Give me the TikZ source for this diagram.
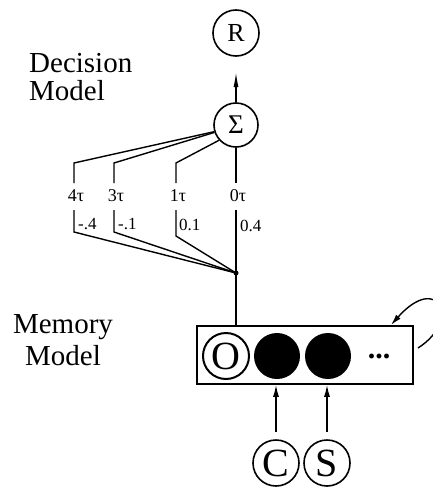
\documentclass[tikz,border=0pt]{standalone}
\usepackage{fontspec}
\setmainfont{Liberation Serif}
\usetikzlibrary{arrows.meta}
\tikzset{
  unit/.style={circle,draw,line width=1.6pt,minimum size=46pt,inner sep=0pt},
  filledunit/.style={circle,fill=black,minimum size=46pt,inner sep=0pt},
  lbl/.style={font=\fontsize{29}{29}\selectfont,inner sep=0pt},
  tlbl/.style={font=\fontsize{18}{18}\selectfont,inner sep=0pt},
  wlbl/.style={font=\fontsize{17}{17}\selectfont,inner sep=0pt,anchor=west},
  wire/.style={line width=1.4pt},
  arr/.style={line width=1.4pt,-{Latex[length=12pt,width=6pt]}},
}
\begin{document}
\begin{tikzpicture}[x=1pt,y=-1pt]
\useasboundingbox (0,0) rectangle (432,490);
% side labels
\node[lbl,anchor=base west] (dec1) at (29,72) {Decision};
\node[lbl,anchor=base west] (dec2) at (29,100) {Model};
\node[lbl,anchor=base] (mem1) at (63,333) {Memory};
\node[lbl,anchor=base] (mem2) at (63,365) {Model};
% decision units
\node[unit,font=\fontsize{26}{26}\selectfont] (R) at (236,33) {R};
\node[unit,minimum size=44pt,font=\fontsize{27}{27}\selectfont] (sig) at (236,125) {Σ};
\coordinate (rtip) at (236,72);
\draw[line width=1.4pt,-{Latex[length=15pt,width=5pt]}] (sig.north) -- (rtip);
% delay branches
\coordinate (c4) at (74,163);
\coordinate (c3) at (114,163);
\coordinate (c1) at (176,163);
\coordinate (c4b) at (74,183);
\coordinate (c3b) at (114,183);
\coordinate (c1b) at (176,183);
\coordinate (c0b) at (236,183);
\draw[wire] (sig.197) -- (c4) -- (c4b);
\draw[wire] (sig.199) -- (c3) -- (c3b);
\draw[wire] (sig.222) -- (c1) -- (c1b);
\draw[wire] (sig.south) -- (c0b);
\node[tlbl,anchor=base] (t4) at (76,201) {4τ};
\node[tlbl,anchor=base] (t3) at (116,201) {3τ};
\node[tlbl,anchor=base] (t1) at (178,201) {1τ};
\node[tlbl,anchor=base] (t0) at (238,201) {0τ};
\coordinate (j) at (236,273);
\coordinate (d4) at (74,210);
\coordinate (d3) at (114,210);
\coordinate (d1) at (176,210);
\coordinate (d0) at (236,210);
\coordinate (e4) at (74,232);
\coordinate (e3) at (114,232);
\coordinate (e1) at (176,236);
\draw[wire] (d4) -- (e4) -- (j);
\draw[wire] (d3) -- (e3) -- (j);
\draw[wire] (d1) -- (e1) -- (j);
\node[wlbl] (w4) at (78,224) {-.4};
\node[wlbl] (w3) at (118,224) {-.1};
\node[wlbl] (w1) at (179,225) {0.1};
\node[wlbl] (w0) at (240,226) {0.4};
\fill (j) circle (2.5pt);
% memory box
\node[draw,line width=1.6pt,minimum width=216pt,minimum height=58pt,inner sep=0pt] (box) at (305,355) {};
\draw[wire] (d0) -- (j) -- (j |- box.north);
\node[unit,line width=2pt,font=\fontsize{40}{40}\selectfont] (O) at (226,356) {O};
\node[filledunit] (m1) at (277,356) {};
\node[filledunit] (m2) at (328,356) {};
\node[font=\fontsize{30}{30}\selectfont\bfseries,inner sep=0pt] (dots) at (379,356) {...};
% recurrence loop
\coordinate (ls) at (418,348);
\coordinate (le) at (391,325);
\draw[line width=1.4pt,-{Latex[length=11pt,width=6pt]}] (ls) .. controls (462,320) and (438,272) .. (le);
% inputs
\node[unit,font=\fontsize{40}{40}\selectfont] (C) at (276,463) {C};
\node[unit,font=\fontsize{40}{40}\selectfont] (S) at (327,463) {S};
\draw[arr] ([yshift=7pt]C.north) -- (C.north |- box.south);
\draw[arr] ([yshift=7pt]S.north) -- (S.north |- box.south);
\end{tikzpicture}
\end{document}
